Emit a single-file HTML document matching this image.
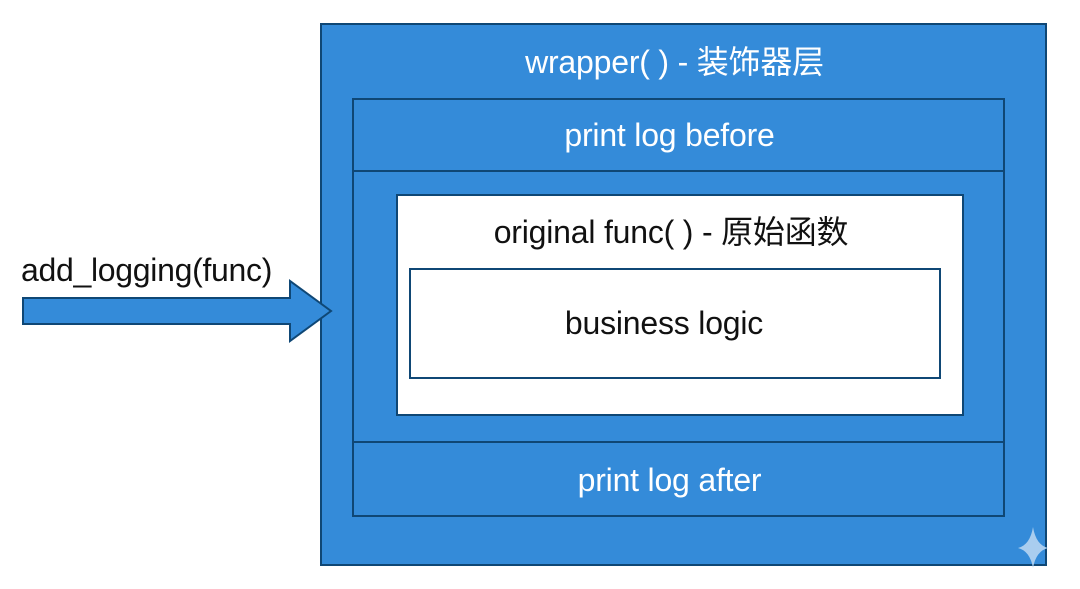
<!DOCTYPE html>
<html><head><meta charset="utf-8"><style>
body{margin:0;width:1080px;height:589px;background:#fff;overflow:hidden;font-family:"Liberation Sans","Noto Sans CJK SC",sans-serif}
.a{position:absolute;box-sizing:border-box;border:2px solid #0f4775}
.t{position:absolute;width:100%;text-align:center;font-size:32px;line-height:37px;letter-spacing:-0.2px}
</style></head><body>
<div class="a" style="left:320px;top:23px;width:727px;height:543px;background:#348bd9"></div>
<div class="a" style="left:352px;top:98px;width:653px;height:419px"></div>
<div class="a" style="left:352px;top:170px;width:653px;height:2px;border-width:1px"></div>
<div class="a" style="left:352px;top:441px;width:653px;height:2px;border-width:1px"></div>
<div class="a" style="left:396px;top:194px;width:568px;height:222px;background:#fff"></div>
<div class="a" style="left:409px;top:268px;width:532px;height:111px;background:#fff"></div>
<div class="t" style="left:311px;top:44px;width:727px;color:#fff">wrapper( ) - 装饰器层</div>
<div class="t" style="left:343px;top:117px;width:653px;color:#fff">print log before</div>
<div class="t" style="left:343px;top:462px;width:653px;color:#fff">print log after</div>
<div class="t" style="left:387px;top:214px;width:568px;color:#111">original func( ) - 原始函数</div>
<div class="t" style="left:398px;top:305px;width:532px;color:#111">business logic</div>
<div style="position:absolute;left:21px;top:252px;font-size:32px;line-height:37px;letter-spacing:-0.3px;color:#111">add_logging(func)</div>
<svg style="position:absolute;left:0;top:0" width="1080" height="589">
<polygon points="23,298 290,298 290,281 331,311 290,341 290,324 23,324" fill="#348bd9" stroke="#0f4775" stroke-width="2"/>
<path d="M1033,527 Q1036,545 1048,548 Q1036,551 1033,568 Q1030,551 1018,548 Q1030,545 1033,527Z" fill="#a9cdef"/>
</svg>
</body></html>
